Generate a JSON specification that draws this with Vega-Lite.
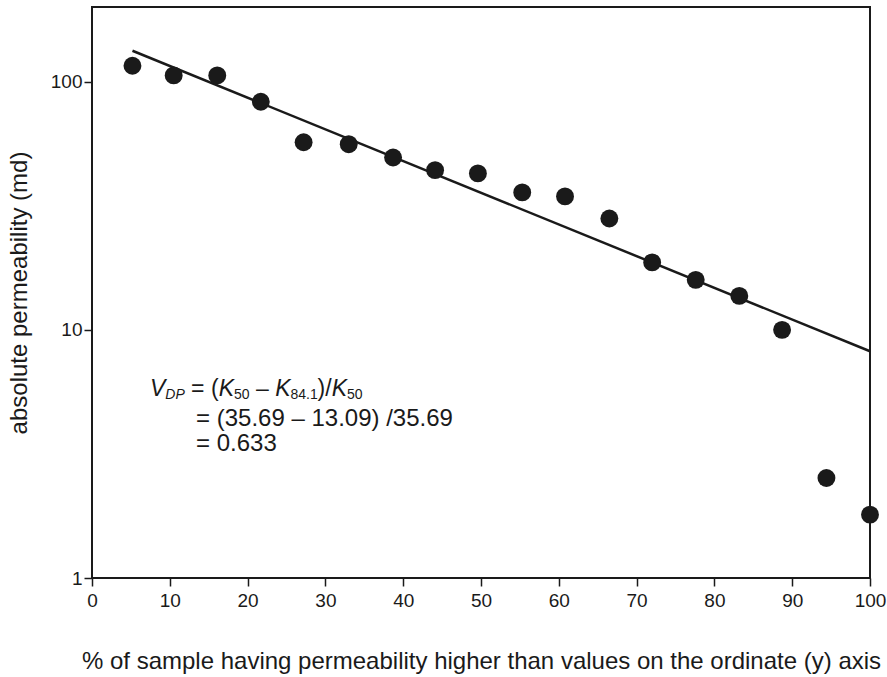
{
  "$schema": "https://vega.github.io/schema/vega-lite/v6.json",
  "width": 778,
  "height": 571,
  "autosize": "none",
  "padding": {"left": 92, "top": 7, "right": 17, "bottom": 99},
  "background": "white",
  "config": {
    "view": {"stroke": "#1a1a1a", "strokeWidth": 2},
    "font": "Liberation Sans",
    "axis": {
      "grid": false,
      "domain": false,
      "ticks": true,
      "tickColor": "#1a1a1a",
      "tickWidth": 1.5,
      "tickSize": 8,
      "labelFont": "Liberation Sans",
      "labelFontSize": 19,
      "labelColor": "#1a1a1a",
      "labelFlush": false,
      "labelOverlap": false,
      "titleFont": "Liberation Sans",
      "titleFontSize": 24,
      "titleFontWeight": "normal",
      "titleColor": "#1a1a1a"
    }
  },
  "datasets": {
    "samples": [
      {"pct": 5.2, "perm": 116},
      {"pct": 10.5, "perm": 106},
      {"pct": 16.1, "perm": 106},
      {"pct": 21.7, "perm": 83},
      {"pct": 27.2, "perm": 57},
      {"pct": 33.0, "perm": 56},
      {"pct": 38.7, "perm": 49.5},
      {"pct": 44.1, "perm": 44},
      {"pct": 49.6, "perm": 42.7},
      {"pct": 55.3, "perm": 35.8},
      {"pct": 60.8, "perm": 34.5},
      {"pct": 66.5, "perm": 28.1},
      {"pct": 72.0, "perm": 18.7},
      {"pct": 77.6, "perm": 15.9},
      {"pct": 83.2, "perm": 13.7},
      {"pct": 88.7, "perm": 10.0},
      {"pct": 94.4, "perm": 2.53},
      {"pct": 100.0, "perm": 1.8}
    ],
    "trend": [
      {"pct": 5.2, "perm": 133.3},
      {"pct": 100, "perm": 8.2}
    ],
    "note": [
      {"id": 1}
    ]
  },
  "layer": [
    {
      "data": {"name": "trend"},
      "mark": {"type": "line", "stroke": "#1a1a1a", "strokeWidth": 2.5},
      "encoding": {
        "x": {
          "field": "pct",
          "type": "quantitative",
          "scale": {"domain": [0, 100], "nice": false, "zero": false},
          "axis": {
            "values": [0, 10, 20, 30, 40, 50, 60, 70, 80, 90, 100],
            "labelPadding": 5,
            "titlePadding": 39,
            "title": "% of sample having permeability higher than values on the ordinate (y) axis"
          }
        },
        "y": {
          "field": "perm",
          "type": "quantitative",
          "scale": {"type": "log", "domain": [1, 200], "nice": false},
          "axis": {
            "values": [1, 10, 100],
            "format": "d",
            "labelPadding": 2,
            "titlePadding": 19,
            "title": "absolute permeability (md)"
          }
        }
      }
    },
    {
      "data": {"name": "samples"},
      "mark": {"type": "point", "filled": true, "size": 320, "color": "#1a1a1a", "opacity": 1},
      "encoding": {
        "x": {"field": "pct", "type": "quantitative"},
        "y": {"field": "perm", "type": "quantitative"}
      }
    },
    {
      "data": {"name": "note"},
      "layer": [
        {
          "mark": {"type": "text", "fontStyle": "italic", "fontSize": 23, "align": "left", "baseline": "alphabetic", "color": "#1a1a1a"},
          "encoding": {"x": {"datum": 7.46}, "y": {"datum": 5.42}, "text": {"value": "V"}}
        },
        {
          "mark": {"type": "text", "fontStyle": "italic", "fontSize": 14, "align": "left", "baseline": "alphabetic", "color": "#1a1a1a"},
          "encoding": {"x": {"datum": 9.43}, "y": {"datum": 5.27}, "text": {"value": "DP"}}
        },
        {
          "mark": {"type": "text", "fontSize": 23, "align": "left", "baseline": "alphabetic", "color": "#1a1a1a"},
          "encoding": {"x": {"datum": 12.74}, "y": {"datum": 5.42}, "text": {"value": "= ("}}
        },
        {
          "mark": {"type": "text", "fontStyle": "italic", "fontSize": 23, "align": "left", "baseline": "alphabetic", "color": "#1a1a1a"},
          "encoding": {"x": {"datum": 16.28}, "y": {"datum": 5.42}, "text": {"value": "K"}}
        },
        {
          "mark": {"type": "text", "fontSize": 14, "align": "left", "baseline": "alphabetic", "color": "#1a1a1a"},
          "encoding": {"x": {"datum": 18.24}, "y": {"datum": 5.27}, "text": {"value": "50"}}
        },
        {
          "mark": {"type": "text", "fontSize": 23, "align": "left", "baseline": "alphabetic", "color": "#1a1a1a"},
          "encoding": {"x": {"datum": 21.07}, "y": {"datum": 5.42}, "text": {"value": "–"}}
        },
        {
          "mark": {"type": "text", "fontStyle": "italic", "fontSize": 23, "align": "left", "baseline": "alphabetic", "color": "#1a1a1a"},
          "encoding": {"x": {"datum": 23.54}, "y": {"datum": 5.42}, "text": {"value": "K"}}
        },
        {
          "mark": {"type": "text", "fontSize": 14, "align": "left", "baseline": "alphabetic", "color": "#1a1a1a"},
          "encoding": {"x": {"datum": 25.51}, "y": {"datum": 5.27}, "text": {"value": "84.1"}}
        },
        {
          "mark": {"type": "text", "fontSize": 23, "align": "left", "baseline": "alphabetic", "color": "#1a1a1a"},
          "encoding": {"x": {"datum": 29.0}, "y": {"datum": 5.42}, "text": {"value": ")/"}}
        },
        {
          "mark": {"type": "text", "fontStyle": "italic", "fontSize": 23, "align": "left", "baseline": "alphabetic", "color": "#1a1a1a"},
          "encoding": {"x": {"datum": 30.81}, "y": {"datum": 5.42}, "text": {"value": "K"}}
        },
        {
          "mark": {"type": "text", "fontSize": 14, "align": "left", "baseline": "alphabetic", "color": "#1a1a1a"},
          "encoding": {"x": {"datum": 32.78}, "y": {"datum": 5.27}, "text": {"value": "50"}}
        },
        {
          "mark": {"type": "text", "fontSize": 24, "align": "left", "baseline": "alphabetic", "color": "#1a1a1a"},
          "encoding": {"x": {"datum": 13.37}, "y": {"datum": 4.1}, "text": {"value": "= (35.69 – 13.09) /35.69"}}
        },
        {
          "mark": {"type": "text", "fontSize": 24, "align": "left", "baseline": "alphabetic", "color": "#1a1a1a"},
          "encoding": {"x": {"datum": 13.37}, "y": {"datum": 3.25}, "text": {"value": "= 0.633"}}
        }
      ]
    }
  ]
}
